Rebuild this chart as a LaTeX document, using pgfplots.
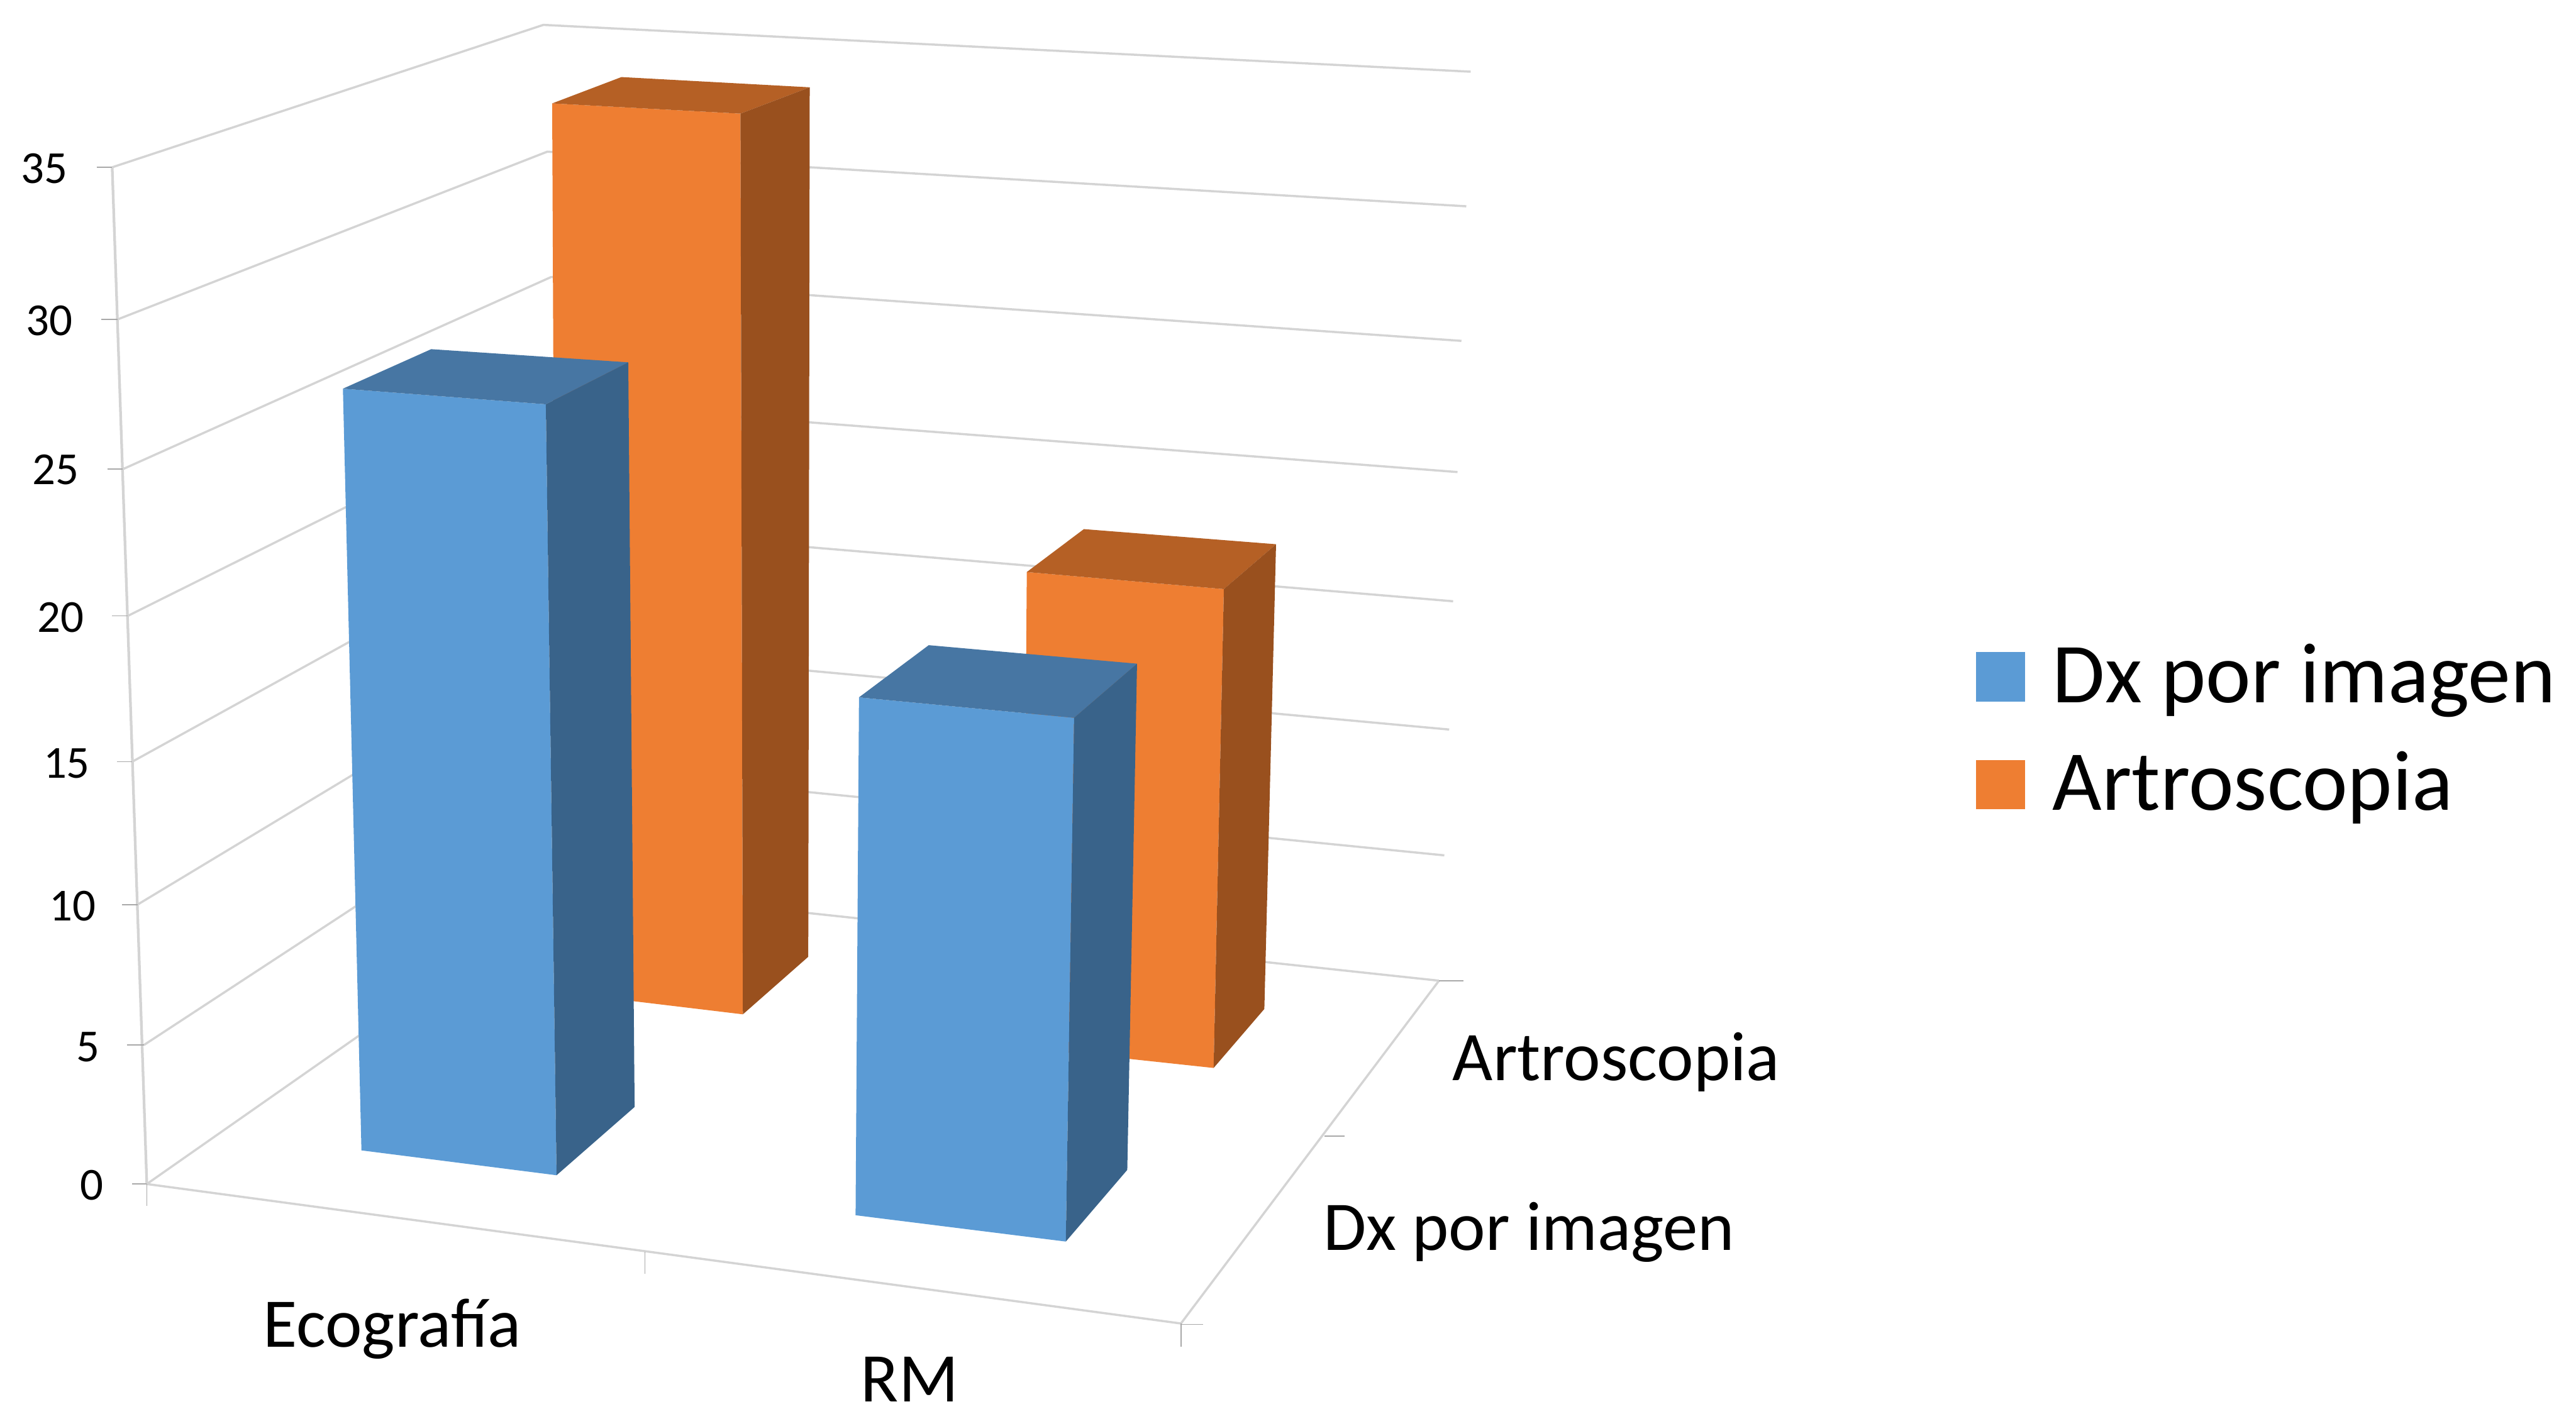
\documentclass[border=0pt]{standalone}
\usepackage{fontspec}
\setmainfont{Carlito}
\usepackage{pgfplots}
\pgfplotsset{compat=1.18}
\definecolor{bluefront}{HTML}{5B9BD5}
\definecolor{blueside}{HTML}{39638A}
\definecolor{bluetop}{HTML}{4776A3}
\definecolor{orangefront}{HTML}{EE7E32}
\definecolor{orangeside}{HTML}{99501E}
\definecolor{orangetop}{HTML}{B56025}
\definecolor{gridgray}{HTML}{D4D4D4}
\definecolor{tickgray}{HTML}{A8A8A8}
\pgfplotsset{
  grid seg/.style={gridgray,line width=0.45pt,forget plot},
  tick seg/.style={tickgray,line width=0.2pt,forget plot},
  face/.style={draw=none,fill=#1,forget plot},
}
\begin{document}
\begin{tikzpicture}
\useasboundingbox (0,0) rectangle (528.1pt,289.9pt);
\begin{axis}[
  at={(0,0)},anchor=south west,
  scale only axis,width=528.1pt,height=289.9pt,
  xmin=0,xmax=5281,ymin=0,ymax=2899,y dir=reverse,
  axis lines=none,clip=false,
  legend cell align=left,
  legend style={at={(axis cs:4051,1300)},anchor=north west,draw=none,fill=none,
    font=\fontsize{17.5}{21}\selectfont,inner sep=0pt,outer sep=0pt,
    row sep=4.6pt,
    /tikz/nodes={inner xsep=0pt},
    /tikz/every odd column/.append style={column sep=5.6pt}},
]
% left wall gridlines, then back wall gridlines, level 35 down to 0
\addplot[grid seg] coordinates {(230,343)(1114,51)(3015,147)};
\addplot[grid seg] coordinates {(241,655)(1122,311)(3006,423)};
\addplot[grid seg] coordinates {(252,962)(1130,568)(2996,699)};
\addplot[grid seg] coordinates {(262,1263)(1138,826)(2988,968)};
\addplot[grid seg] coordinates {(271,1562)(1146,1079)(2979,1233)};
\addplot[grid seg] coordinates {(282,1855)(1154,1329)(2971,1496)};
\addplot[grid seg] coordinates {(295,2143)(1162,1575)(2961,1754)};
\addplot[grid seg] coordinates {(301,2428)(1170,1820)(2950,2011)};
% floor edges and vertical axis
\addplot[grid seg] coordinates {(301,2428)(2421,2714)(2950,2011)};
\addplot[grid seg,line width=0.55pt] coordinates {(230,343)(301,2428)};
% tick marks
\addplot[tick seg] coordinates {(198,343)(230,343)};
\addplot[tick seg] coordinates {(208,655)(241,655)};
\addplot[tick seg] coordinates {(220,962)(252,962)};
\addplot[tick seg] coordinates {(230,1263)(262,1263)};
\addplot[tick seg] coordinates {(240,1562)(271,1562)};
\addplot[tick seg] coordinates {(250,1855)(282,1855)};
\addplot[tick seg] coordinates {(260,2143)(295,2143)};
\addplot[tick seg] coordinates {(271,2428)(301,2428)};
\addplot[tick seg] coordinates {(301,2428)(301,2473)};
\addplot[tick seg] coordinates {(1322,2567)(1322,2612)};
\addplot[tick seg] coordinates {(2421,2714)(2421,2762)};
\addplot[tick seg] coordinates {(2421,2716)(2466,2716)};
\addplot[tick seg] coordinates {(2715,2330)(2757,2330)};
\addplot[tick seg] coordinates {(2950,2011)(3000,2011)};
% Artroscopia, Ecografia
\addplot[face=orangefront] coordinates {(1132,212)(1518,233)(1523,2080)(1140,2034)};
\addplot[face=orangetop] coordinates {(1132,212)(1274,158)(1660,179)(1518,233)};
\addplot[face=orangeside] coordinates {(1518,233)(1660,179)(1657,1962)(1523,2080)};
% Artroscopia, RM
\addplot[face=orangefront] coordinates {(2105,1173)(2509,1208)(2488,2190)(2098,2148)};
\addplot[face=orangetop] coordinates {(2105,1173)(2222,1085)(2616,1116)(2509,1208)};
\addplot[face=orangeside] coordinates {(2509,1208)(2616,1116)(2592,2069)(2488,2190)};
% Dx por imagen, Ecografia
\addplot[face=bluefront] coordinates {(703,797)(1119,829)(1141,2410)(741,2359)};
\addplot[face=bluetop] coordinates {(703,797)(884,716)(1288,743)(1119,829)};
\addplot[face=blueside] coordinates {(1119,829)(1288,743)(1301,2270)(1141,2410)};
% Dx por imagen, RM
\addplot[face=bluefront] coordinates {(1761,1430)(2202,1472)(2185,2546)(1754,2492)};
\addplot[face=bluetop] coordinates {(1761,1430)(1904,1323)(2331,1361)(2202,1472)};
\addplot[face=blueside] coordinates {(2202,1472)(2331,1361)(2311,2399)(2185,2546)};
% legend keys
\addlegendimage{legend image code/.code={\fill[bluefront] (0pt,-4.85pt) rectangle (9.7pt,4.85pt);}}
\addlegendentry{Dx por imagen}
\addlegendimage{legend image code/.code={\fill[orangefront] (0pt,-4.85pt) rectangle (9.7pt,4.85pt);}}
\addlegendentry{Artroscopia}
% value labels beside the vertical axis
\begin{scope}[every node/.style={anchor=base west,inner sep=0pt,outer sep=0pt,font=\fontsize{9.4}{11}\selectfont}]
\node at (axis cs:43,376) {35};
\node at (axis cs:54,688) {30};
\node at (axis cs:67,993) {25};
\node at (axis cs:77,1297) {20};
\node at (axis cs:89,1595) {15};
\node at (axis cs:101,1888) {10};
\node at (axis cs:157,2177) {5};
\node at (axis cs:165,2461) {0};
\end{scope}
% category labels
\begin{scope}[every node/.style={anchor=base west,inner sep=0pt,outer sep=0pt,font=\fontsize{14.3}{16}\selectfont}]
\node at (axis cs:540,2762) {Ecografía};
\node at (axis cs:1765,2874) {RM};
\node at (axis cs:2978,2215) {Artroscopia};
\node at (axis cs:2713,2564) {Dx por imagen};
\end{scope}
\end{axis}
\end{tikzpicture}
\end{document}
